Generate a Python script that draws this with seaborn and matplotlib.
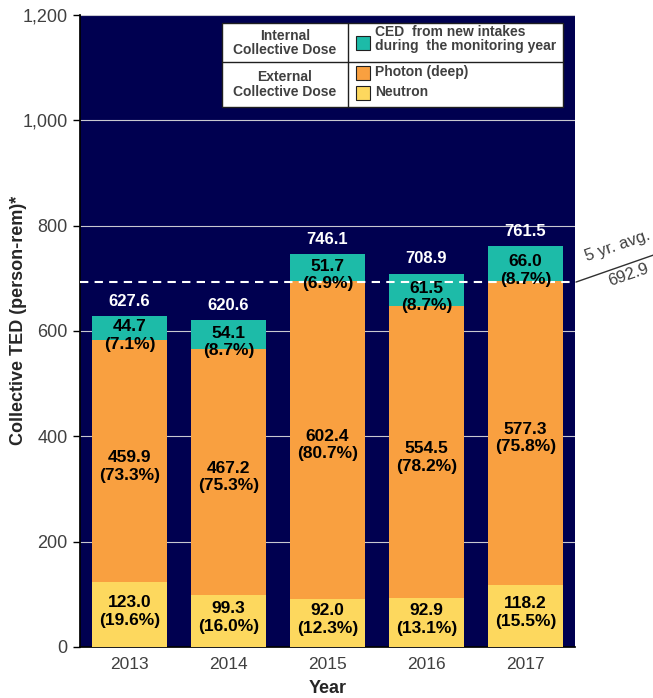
import matplotlib
matplotlib.use("Agg")
import matplotlib.pyplot as plt
import matplotlib.patches as mpatches
import numpy as np
import pandas as pd
import seaborn as sns

# ─── Data ─────────────────────────────────────────────────────────────────────
years       = ["2013", "2014", "2015", "2016", "2017"]
neutron     = [123.0, 99.3, 92.0, 92.9, 118.2]
neutron_pct = [19.6, 16.0, 12.3, 13.1, 15.5]
photon      = [459.9, 467.2, 602.4, 554.5, 577.3]
photon_pct  = [73.3, 75.3, 80.7, 78.2, 75.8]
ced         = [44.7, 54.1, 51.7, 61.5, 66.0]
ced_pct     = [7.1, 8.7, 6.9, 8.7, 8.7]
totals      = [627.6, 620.6, 746.1, 708.9, 761.5]
avg_5yr     = 692.9

# ─── Style ────────────────────────────────────────────────────────────────────
NAVY   = "#000050"
TEAL   = "#1DBBA8"
ORANGE = "#F9A040"
YELLOW = "#FDD85E"
GREY   = "#404040"

sns.set_theme(style="white")
plt.rcParams["font.family"] = ["Liberation Sans", "DejaVu Sans"]

df = pd.DataFrame({"year": years, "neutron": neutron, "photon": photon, "ced": ced})
df["ext"] = df["neutron"] + df["photon"]
df["tot"] = df["ext"] + df["ced"]

fig = plt.figure(figsize=(6.53, 6.98), dpi=100)
ax = fig.add_axes([0.1225, 0.0731, 0.758, 0.9054])
ax.set_facecolor(NAVY)

# layered bars: full stack first, then the lower parts on top of it
W = 0.76
sns.barplot(data=df, x="year", y="tot", color=TEAL, saturation=1, width=W, ax=ax, zorder=2, linewidth=0)
sns.barplot(data=df, x="year", y="ext", color=ORANGE, saturation=1, width=W, ax=ax, zorder=3, linewidth=0)
sns.barplot(data=df, x="year", y="neutron", color=YELLOW, saturation=1, width=W, ax=ax, zorder=4, linewidth=0)

ax.set_ylim(0, 1200)
ax.set_xlim(-0.5, 4.5)
ax.set_yticks(range(0, 1201, 200))
ax.set_yticklabels([f"{v:,}" for v in range(0, 1201, 200)], fontsize=13, color=GREY)
ax.set_xticks(range(len(years)))
ax.set_xticklabels(years, fontsize=12.5, color=GREY)
ax.set_xticks(np.arange(-0.5, 5, 1), minor=True)
ax.tick_params(axis="x", which="major", length=0, pad=7)
ax.tick_params(axis="x", which="minor", length=5, width=1, color="black", direction="out")
ax.tick_params(axis="y", length=5, width=1, color="black", direction="out", left=True, pad=4)
ax.yaxis.grid(True, color="#C8C8D0", linewidth=0.8, zorder=1)
ax.set_axisbelow(True)
for side in ["top", "right"]:
    ax.spines[side].set_visible(False)
ax.spines["left"].set_color("black")
ax.spines["bottom"].set_color("black")

ax.set_xlabel("Year", fontsize=13, fontweight="bold", labelpad=6)
ax.set_ylabel("Collective TED (person-rem)*", fontsize=13, fontweight="bold")
ax.yaxis.set_label_coords(-0.108, 0.517)

# ─── Labels ───────────────────────────────────────────────────────────────────
for i in range(len(years)):
    ax.text(i, neutron[i] / 2 + 6, f"{neutron[i]:.1f}\n({neutron_pct[i]:.1f}%)",
            ha="center", va="center", fontsize=12.5, fontweight="bold", color="black", zorder=6)
    ax.text(i, neutron[i] + photon[i] / 2 - 10, f"{photon[i]:.1f}\n({photon_pct[i]:.1f}%)",
            ha="center", va="center", fontsize=12.5, fontweight="bold", color="black", zorder=6)
    ax.text(i, df["ext"][i] + ced[i] / 2 - 14, f"{ced[i]:.1f}\n({ced_pct[i]:.1f}%)",
            ha="center", va="center", fontsize=12.5, fontweight="bold", color="black", zorder=6)
    ax.text(i, totals[i] + 14, f"{totals[i]:.1f}", ha="center", va="bottom",
            fontsize=12, fontweight="bold", color="white", zorder=6)

# 5-year average line + callout
ax.plot([-0.5, 4.52], [avg_5yr, avg_5yr], color="white", linestyle=(0, (4, 3)),
        linewidth=1.5, zorder=5, clip_on=False)
ax.plot([4.51, 5.29], [avg_5yr, 744], color="#303030", linewidth=1, clip_on=False, zorder=5)
ax.text(4.93, 761, "5 yr. avg.", rotation=19, ha="center", va="center",
        fontsize=12, color=GREY, clip_on=False, rotation_mode="anchor")
ax.text(5.04, 706, f"{avg_5yr:.1f}", rotation=19, ha="center", va="center",
        fontsize=12, color=GREY, clip_on=False, rotation_mode="anchor")

# ─── Legend table ─────────────────────────────────────────────────────────────
x0, x1, xm = 0.287, 0.976, 0.541
y0, y1, ym = 0.854, 0.987, 0.926
tr = ax.transAxes
ax.add_patch(mpatches.Rectangle((x0, y0), x1 - x0, y1 - y0, transform=tr,
             facecolor="white", edgecolor="#202020", linewidth=1, zorder=7))
ax.plot([xm, xm], [y0, y1], transform=tr, color="#202020", linewidth=1, zorder=8)
ax.plot([x0, x1], [ym, ym], transform=tr, color="#202020", linewidth=1, zorder=8)

lx = (x0 + xm) / 2
ax.text(lx, 0.956, "Internal\nCollective Dose", transform=tr, ha="center", va="center",
        fontsize=10, color=GREY, fontweight="bold", zorder=9, linespacing=1.05)
ax.text(lx, 0.890, "External\nCollective Dose", transform=tr, ha="center", va="center",
        fontsize=10, color=GREY, fontweight="bold", zorder=9, linespacing=1.05)

legend_rows = [(TEAL, 0.956, "CED  from new intakes\nduring  the monitoring year"),
               (ORANGE, 0.908, "Photon (deep)"),
               (YELLOW, 0.876, "Neutron")]
for col, yc, lab in legend_rows:
    ax.add_patch(mpatches.Rectangle((0.557, yc - 0.011), 0.028, 0.022, transform=tr,
                 facecolor=col, edgecolor="#202020", linewidth=0.8, zorder=9))
    ax.text(0.597, yc + (0.006 if "\n" in lab else 0.002), lab, transform=tr, ha="left", va="center",
            fontsize=10, color=GREY, fontweight="bold", zorder=9, linespacing=1.05)

fig.savefig("out.png", dpi=100)
